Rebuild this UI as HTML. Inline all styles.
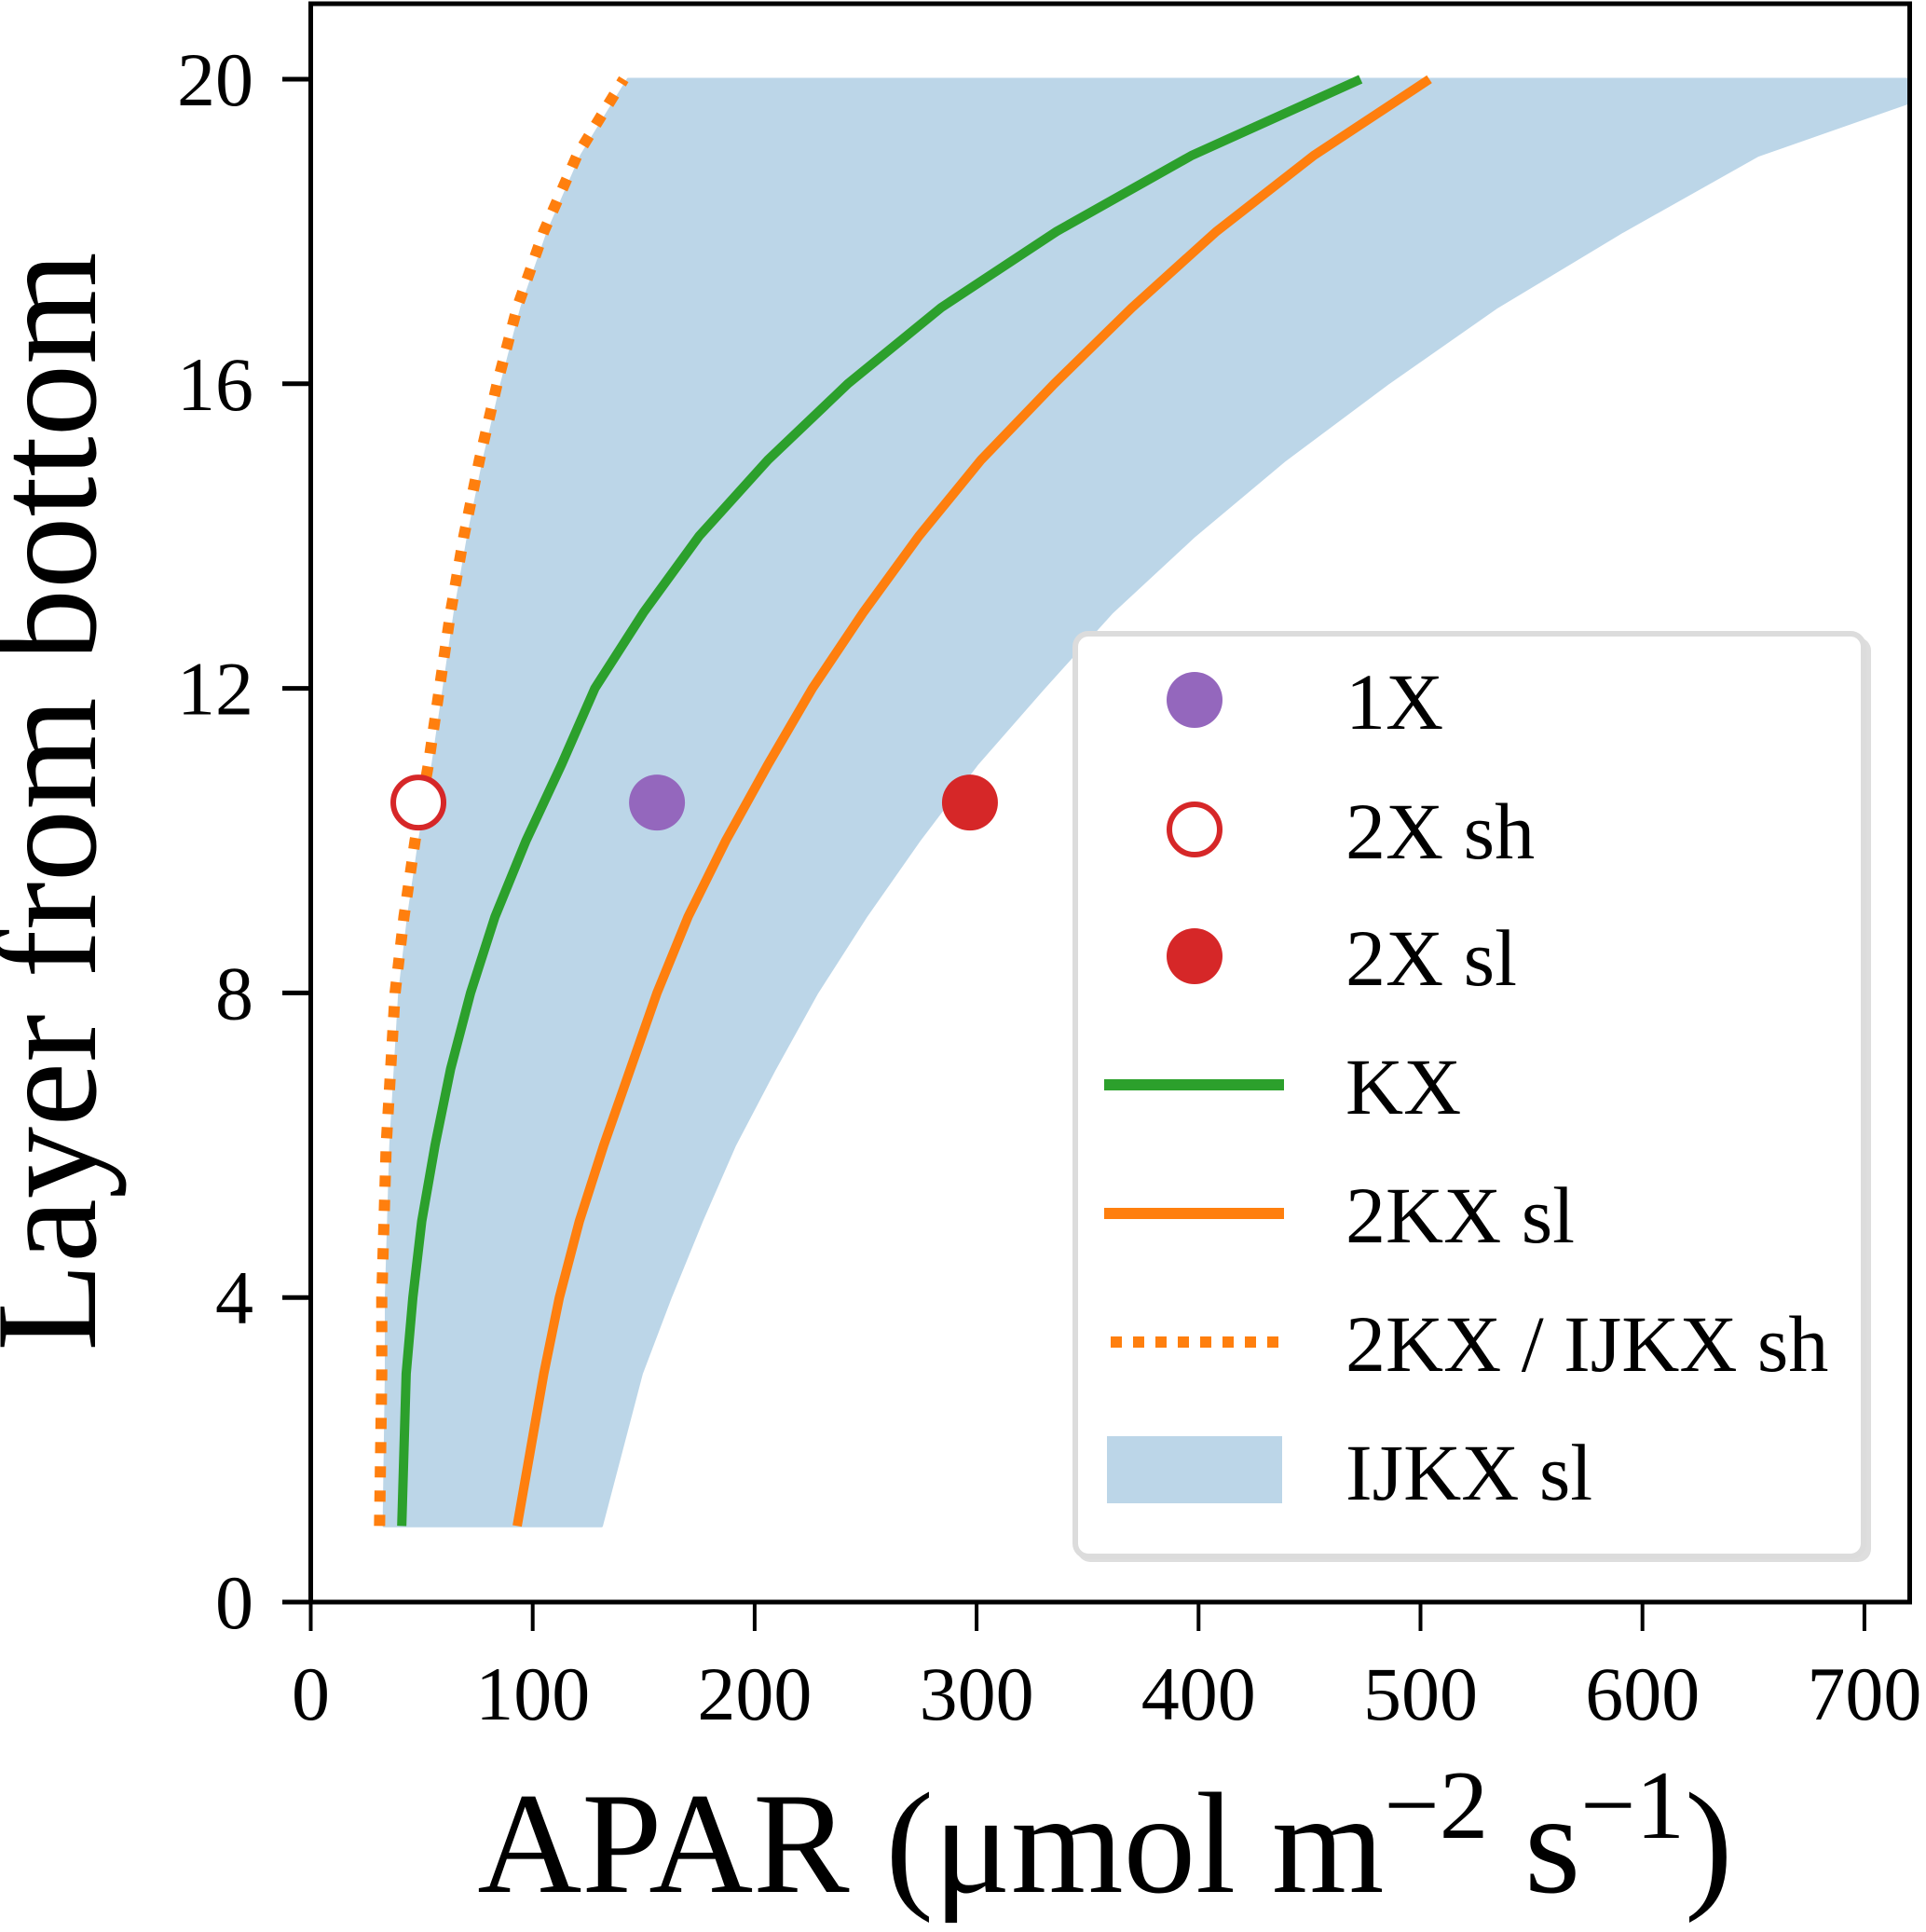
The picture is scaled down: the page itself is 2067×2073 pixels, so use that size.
<!DOCTYPE html>
<html><head><meta charset="utf-8"><style>
html,body{margin:0;padding:0;background:#fff;}
svg{display:block;font-family:"Liberation Serif",serif;}
</style></head><body>
<svg id="chart" width="2067" height="2073" viewBox="0 0 2067 2073">
<defs><clipPath id="plotclip"><rect x="334" y="4" width="1716" height="1715"/></clipPath></defs>
<g id="plot" clip-path="url(#plotclip)"></g>
<g id="axes"></g>
<g id="legend"></g>
</svg>
<script>
const layers = [1,2,3,4,5,6,7,8,9,10,11,12,13,14,15,16,17,18,19,20];
const kx = [41,42,43,46,50,56,63,72,83,97,113,128,150,175,206,242,284,336,397,473];
const kx2sl = [93,99,105,112,121,132,144,156,170,187,206,226,249,274,302,335,370,408,452,504];
const kx2sh = [31,31.5,32,32,33,34,36,38,42,47,53,58,63,69,76,84,93,105,120,141];
const ijkxSl = [131,140,149,162,176,191,209,228,250,274,300,330,361,398,439,485,534,591,652,750];
const pointLayer = [10.5,10.5,10.5];
const pointApar = [156,48.5,297];
const xTicks = [0,100,200,300,400,500,600,700];
const yTicks = [0,4,8,12,16,20];

const X0=333.5, XS=2.382, Y0=1719, YS=81.7;
const sx = v => X0 + v*XS;
const sy = v => Y0 - v*YS;
const NS="http://www.w3.org/2000/svg";
function mk(tag, attrs, parent){const e=document.createElementNS(NS,tag);for(const k in attrs)e.setAttribute(k,attrs[k]);parent.appendChild(e);return e;}
const plot=document.getElementById('plot'), axes=document.getElementById('axes'), leg=document.getElementById('legend');

let d='';
layers.forEach((l,i)=>{d+=(i?'L':'M')+sx(kx2sh[i]+2)+','+sy(l);});
for(let i=layers.length-1;i>=0;i--){d+='L'+sx(ijkxSl[i])+','+sy(layers[i]);}
const band=mk('path',{d:d+'Z',fill:'#bcd6e8',stroke:'#bcd6e8','stroke-width':3,'stroke-linejoin':'round'},plot);



function line(arr,color,name,dash){
  const p=layers.map((l,i)=>sx(arr[i])+','+sy(l)).join(' ');
  const a={points:p,fill:'none',stroke:color,'stroke-width':10};
  if(dash){a['stroke-dasharray']=dash;a['stroke-width']=12;}
  const e=mk('polyline',a,plot);
  
  
}
line(kx2sh,'#ff7f0e','line-2kx-ijkx-sh','12 14');
line(kx,'#2ca02c','line-kx');
line(kx2sl,'#ff7f0e','line-2kx-sl');

const pstyles=[{fill:'#9467bd',stroke:'none'},{fill:'#fff',stroke:'#d62728','stroke-width':6},{fill:'#d62728',stroke:'none'}];
const pnames=['point-1x','point-2x-sh','point-2x-sl'];
pointApar.forEach((v,i)=>{
  const r=i===1?27:30;
  const c=mk('circle',Object.assign({cx:sx(v),cy:sy(pointLayer[i]),r:r},pstyles[i]),plot);
  
  
});

const frame=mk('rect',{x:333.5,y:4,width:1716,height:1715,fill:'none',stroke:'#000','stroke-width':5},axes);


xTicks.forEach(t=>{
  mk('line',{x1:sx(t),x2:sx(t),y1:1719,y2:1750,stroke:'#000','stroke-width':4},axes);
  const tx=mk('text',{x:sx(t),y:1845,'font-size':82,'text-anchor':'middle'},axes);
  tx.textContent=t;
  
  
});
yTicks.forEach(t=>{
  mk('line',{x1:303,x2:334,y1:sy(t),y2:sy(t),stroke:'#000','stroke-width':5},axes);
  const tx=mk('text',{x:272,y:sy(t)+28,'font-size':82,'text-anchor':'end'},axes);
  tx.textContent=t;
  
  
});
const xt=mk('text',{x:1186,y:2030,'font-size':155,'text-anchor':'middle'},axes);
xt.innerHTML='APAR (μmol m<tspan dy="-58" font-size="105">−2</tspan><tspan dy="58"> s</tspan><tspan dy="-58" font-size="105">−1</tspan><tspan dy="58">)</tspan>';


const yt=mk('text',{x:0,y:0,'font-size':155,'text-anchor':'middle',transform:'translate(102,860) rotate(-90)'},axes);
yt.textContent='Layer from bottom';



mk('rect',{x:1156,y:684,width:852,height:992,rx:14,fill:'#dedede'},leg);
const lb=mk('rect',{x:1154,y:680,width:846,height:990,rx:14,fill:'#fff',stroke:'#dcdcdc','stroke-width':6},leg);


const entries=['1X','2X sh','2X sl','KX','2KX sl','2KX / IJKX sh','IJKX sl'];
const ey=[751,890,1026,1164,1302,1440,1578];
entries.forEach((lab,i)=>{
  const g=mk('g',{},leg);
  
  
  const y=ey[i];
  if(i<3){mk('circle',Object.assign({cx:1282,cy:y,r:i===1?27:30},pstyles[i]),g);}
  else if(i===3){mk('line',{x1:1185,x2:1378,y1:y,y2:y,stroke:'#2ca02c','stroke-width':12},g);}
  else if(i===4){mk('line',{x1:1185,x2:1378,y1:y,y2:y,stroke:'#ff7f0e','stroke-width':12},g);}
  else if(i===5){mk('line',{x1:1192,x2:1372,y1:y,y2:y,stroke:'#ff7f0e','stroke-width':12,'stroke-dasharray':'12 12'},g);}
  else {mk('rect',{x:1188,y:y-37,width:188,height:72,fill:'#bcd6e8'},g);}
  const t=mk('text',{x:1444,y:y+31,'font-size':86},g);
  t.textContent=lab;
});
</script>
</body></html>
